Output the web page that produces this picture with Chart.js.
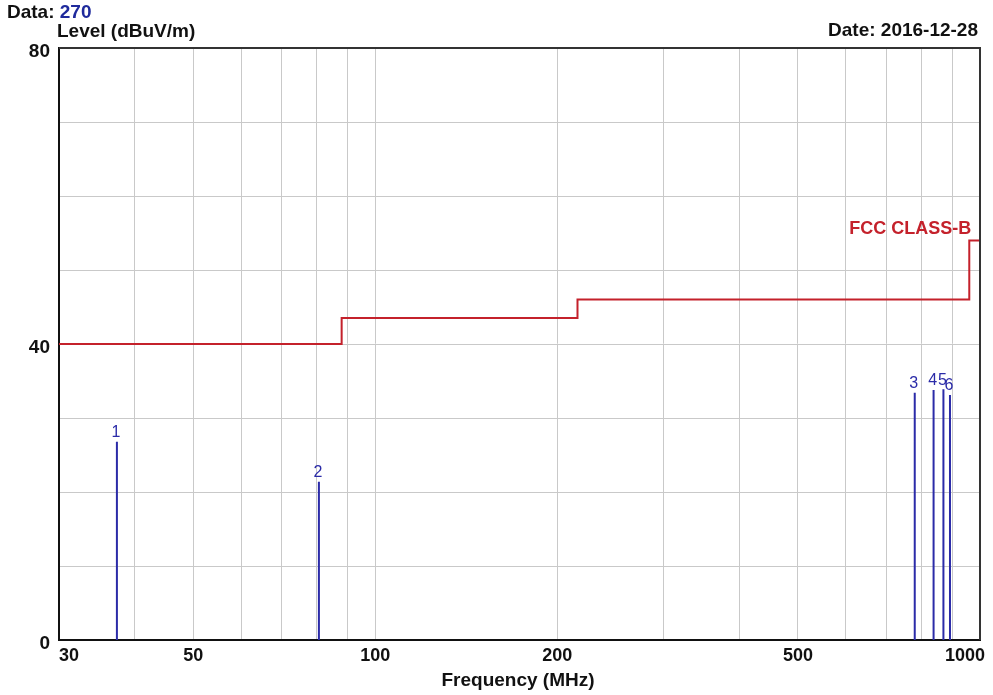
<!DOCTYPE html>
<html>
<head>
<meta charset="utf-8">
<script src="https://cdn.jsdelivr.net/npm/chart.js@4/dist/chart.umd.min.js"></script>
<style>
  html, body { margin: 0; padding: 0; background: #fff; }
  #wrap { width: 993px; height: 695px; position: relative; }
</style>
</head>
<body>
<div id="wrap"><canvas id="emiChart"></canvas></div>
<script>
// Limit line (FCC class B, stepped)
const limitFreq  = [30, 88, 88, 216, 216, 960, 960, 1000];
const limitLevel = [40, 40, 43.5, 43.5, 46, 46, 54, 54];

// Measured peaks
const peakNames = ['1', '2', '3', '4', '5', '6'];
const peakFreq  = [37.4, 80.7, 780, 838, 870, 892];
const peakLevel = [26.8, 21.4, 33.4, 33.8, 33.9, 33.1];

// Axis ticks
const gridFreqs = [30, 40, 50, 60, 70, 80, 90, 100, 200, 300, 400, 500, 600, 700, 800, 900, 1000];
const freqLabels = [30, 50, 100, 200, 500, 1000];
const levelLabels = [0, 40, 80];

const FONT = '"Liberation Sans", Arial, sans-serif';
const BLUE = '#2b2ba8';
const RED = '#c4212b';

// peaks as one broken line: (f,0) -> (f,level), gap, ...
const peakPoints = [];
peakFreq.forEach((f, i) => {
    peakPoints.push({ x: f, y: 0 });
    peakPoints.push({ x: f, y: peakLevel[i] });
    peakPoints.push({ x: f, y: null });
});

const textPlugin = {
    id: 'textPlugin',
    afterDraw(chart) {
        const { ctx, chartArea: { left, right, top, bottom }, scales: { x, y } } = chart;
        ctx.save();

        // top / right frame
        ctx.strokeStyle = '#333';
        ctx.lineWidth = 2;
        ctx.beginPath();
        ctx.moveTo(left, top);
        ctx.lineTo(right, top);
        ctx.lineTo(right, bottom);
        ctx.stroke();

        // x tick labels
        ctx.font = 'bold 18px ' + FONT;
        ctx.fillStyle = '#111';
        ctx.textBaseline = 'middle';
        ctx.textAlign = 'center';
        freqLabels.forEach(v => {
            const t = String(v);
            const w = ctx.measureText(t).width;
            let px = x.getPixelForValue(v);
            px = Math.max(px, left + w / 2);
            px = Math.min(px, right + 5 - w / 2);
            ctx.fillText(t, px, 656);
        });

        // axis titles / header
        ctx.font = 'bold 19px ' + FONT;
        ctx.fillText('Frequency (MHz)', 518, 681);
        ctx.textAlign = 'left';
        ctx.fillText('Level (dBuV/m)', 57, 32);
        ctx.fillText('Data:', 7, 13);
        const dw = ctx.measureText('Data: ').width;
        ctx.fillStyle = '#1f2a9c';
        ctx.fillText('270', 7 + dw, 13);
        ctx.fillStyle = '#111';
        ctx.textAlign = 'right';
        ctx.fillText('Date: 2016-12-28', 978, 31);

        // limit name
        ctx.font = 'bold 18px ' + FONT;
        ctx.fillStyle = RED;
        ctx.fillText('FCC CLASS-B', x.getPixelForValue(limitFreq[limitFreq.length - 2]) + 2,
                     y.getPixelForValue(limitLevel[limitLevel.length - 1]) - 11);

        // peak numbers
        ctx.font = '16px ' + FONT;
        ctx.fillStyle = BLUE;
        ctx.textAlign = 'center';
        ctx.textBaseline = 'bottom';
        peakNames.forEach((n, i) => {
            ctx.fillText(n, x.getPixelForValue(peakFreq[i]) - 1, y.getPixelForValue(peakLevel[i]) - 1);
        });
        ctx.restore();
    }
};

new Chart(document.getElementById('emiChart'), {
    type: 'scatter',
    data: {
        datasets: [
            {
                label: 'FCC CLASS-B',
                data: limitFreq.map((f, i) => ({ x: f, y: limitLevel[i] })),
                showLine: true,
                borderColor: RED,
                borderWidth: 2,
                pointRadius: 0
            },
            {
                label: 'Peaks',
                data: peakPoints,
                showLine: true,
                spanGaps: false,
                borderColor: BLUE,
                borderWidth: 2,
                pointRadius: 0
            }
        ]
    },
    options: {
        responsive: true,
        maintainAspectRatio: false,
        animation: false,
        layout: { padding: { left: 0, right: 13, top: 48, bottom: 0 } },
        plugins: {
            legend: { display: false },
            tooltip: { enabled: false }
        },
        scales: {
            x: {
                type: 'logarithmic',
                min: 30,
                max: 1000,
                afterBuildTicks: (scale) => { scale.ticks = gridFreqs.map(v => ({ value: v })); },
                afterFit: (scale) => { scale.height = 55; },
                ticks: { display: false },
                grid: { color: '#c9c9c9', lineWidth: 1, drawTicks: false },
                border: { color: '#111', width: 2 }
            },
            y: {
                min: 0,
                max: 80,
                afterFit: (scale) => { scale.width = 59; },
                ticks: {
                    stepSize: 10,
                    padding: 9,
                    labelOffset: 4,
                    color: '#111',
                    font: { family: FONT, size: 19, weight: 'bold' },
                    callback: (v) => levelLabels.includes(v) ? String(v) : ''
                },
                grid: { color: '#c9c9c9', lineWidth: 1, drawTicks: false },
                border: { color: '#111', width: 2 }
            }
        }
    },
    plugins: [textPlugin]
});
</script>
</body>
</html>
